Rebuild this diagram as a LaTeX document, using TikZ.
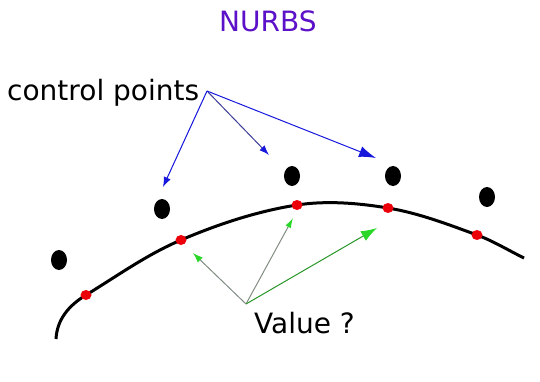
\documentclass[tikz,border=0pt]{standalone}
\usepackage{fontspec}
\setmainfont{DejaVu Sans}
\usetikzlibrary{arrows.meta,shapes.geometric}
\definecolor{nurbsTitle}{RGB}{92,16,200}
\definecolor{ctrlBlue}{RGB}{24,24,220}
\definecolor{ctrlDark}{RGB}{60,60,150}
\definecolor{valGreen}{RGB}{40,215,40}
\definecolor{valGrey}{RGB}{130,140,130}
\definecolor{valLine}{RGB}{40,150,40}
\definecolor{knotRed}{RGB}{235,0,10}

\begin{document}
\begin{tikzpicture}[
    x=1pt, y=-1pt,
    ctrlpt/.style={ellipse, fill=black, inner sep=0pt, minimum width=16pt, minimum height=20pt},
    knot/.style={ellipse, fill=knotRed, inner sep=0pt, minimum width=11pt, minimum height=10pt},
    lbl/.style={inner sep=0pt, anchor=base west, font=\fontsize{28}{32}\selectfont},
    arr/.style={-{Latex[length=#1]}, line width=1pt},
    arr/.default=10pt
]
\useasboundingbox (0,0) rectangle (540,382);

% labels
\node[lbl, text=nurbsTitle] (title) at (219,32) {NURBS};
\node[lbl] (ctrl) at (7,101) {control points};
\node[lbl] (value) at (254,333) {Value ?};

% control points
\node[ctrlpt] (p1) at (59,260) {};
\node[ctrlpt] (p2) at (162,209) {};
\node[ctrlpt] (p3) at (292,176) {};
\node[ctrlpt] (p4) at (393,176) {};
\node[ctrlpt] (p5) at (487,197) {};

% curve through the knots
\coordinate (k1) at (86,295);
\coordinate (k2) at (181,240);
\coordinate (k3) at (297,205);
\coordinate (k4) at (388,208);
\coordinate (k5) at (477,235);
\draw[line width=3pt] (56,339) .. controls (57,320) and (68,306) .. (k1)
    .. controls (117.6,275.7) and (147,254.5) .. (k2)
    .. controls (217.8,224.3) and (257.5,211.1) .. (k3)
    .. controls (326.6,200.4) and (358.4,203.1) .. (k4)
    .. controls (418.6,213.1) and (447.9,224.3) .. (k5)
    .. controls (493,240.9) and (508.7,250.5) .. (524,258);

% knots on the curve
\foreach \k in {k1,k2,k3,k4,k5}
    \node[knot] (dot\k) at (\k) {};

% arrows
\coordinate (cfrom) at (207,91);
\coordinate (ct1) at (163,187);
\coordinate (ct2) at (269,155);
\coordinate (ct3) at (376,158);
\draw[arr, draw=ctrlBlue, fill=ctrlBlue] (cfrom) -- (ct1);
\draw[arr, draw=ctrlDark, -{Latex[length=10pt, width=7pt, color=ctrlBlue]}] (cfrom) -- (ct2);
\draw[arr, draw=ctrlBlue, -{Latex[length=17pt, width=11pt]}] (cfrom) -- (ct3);

\coordinate (vfrom) at (246,304);
\coordinate (vt1) at (193,253);
\coordinate (vt2) at (293,218);
\coordinate (vt3) at (377,228);
\draw[arr, draw=valGrey, -{Latex[length=10pt, width=7pt, color=valGreen]}] (vfrom) -- (vt1);
\draw[arr, draw=valGrey, -{Latex[length=10pt, width=6pt, color=valGreen]}] (vfrom) -- (vt2);
\draw[arr, draw=valLine, -{Latex[length=16pt, width=11pt, color=valGreen]}] (vfrom) -- (vt3);
\end{tikzpicture}
\end{document}
